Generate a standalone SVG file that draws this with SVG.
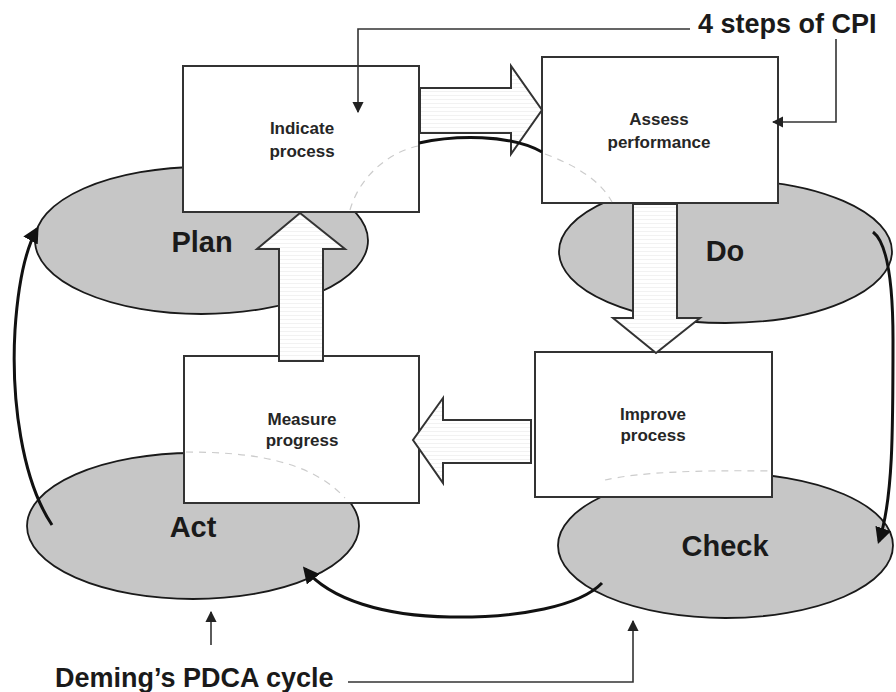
<svg xmlns="http://www.w3.org/2000/svg" width="896" height="692" viewBox="0 0 896 692">
  <style>
    .ell { fill: #c6c6c6; stroke: #1a1a1a; stroke-width: 1.8; }
    .box { fill: #ffffff; stroke: #333333; stroke-width: 2; }
    .blk { fill: url(#stripes); stroke: #333333; stroke-width: 2; stroke-linejoin: miter; }
    .big { font-family: "Liberation Sans", Arial, sans-serif; font-weight: bold; font-size: 29px; fill: #1a1a1a; text-anchor: middle; }
    .small { font-family: "Liberation Sans", Arial, sans-serif; font-weight: bold; font-size: 17px; fill: #262626; text-anchor: middle; }
    .cap { font-family: "Liberation Sans", Arial, sans-serif; font-weight: bold; font-size: 27px; fill: #1a1a1a; }
    .thick { fill: none; stroke: #111111; stroke-width: 3; }
    .thin { fill: none; stroke: #333333; stroke-width: 1.6; }
    .ghost { fill: none; stroke: #cccccc; stroke-width: 1.2; stroke-dasharray: 7 6; }
  </style>
  <defs>
    <pattern id="stripes" width="8" height="4" patternUnits="userSpaceOnUse">
      <rect width="8" height="4" fill="#ffffff"/>
      <line x1="0" y1="3.5" x2="8" y2="3.5" stroke="#ececec" stroke-width="0.7"/>
    </pattern>
    <marker id="big-head" viewBox="0 0 10 10" refX="8" refY="5" markerWidth="5.5" markerHeight="5.5" orient="auto" markerUnits="strokeWidth">
      <path d="M0,0 L10,5 L0,10 Z" fill="#111111"/>
    </marker>
    <marker id="small-head" viewBox="0 0 10 10" refX="9" refY="5" markerWidth="7" markerHeight="7" orient="auto" markerUnits="strokeWidth">
      <path d="M0,0 L10,5 L0,10 Z" fill="#222222"/>
    </marker>
  </defs>

  <rect width="896" height="692" fill="#ffffff"/>

  <!-- PDCA ellipses -->
  <g id="plan">
    <ellipse class="ell" cx="201.5" cy="240.5" rx="166.5" ry="73.5"/>
  </g>
  <g id="do">
    <ellipse class="ell" cx="725.5" cy="251.5" rx="166.5" ry="71.5"/>
  </g>
  <g id="act">
    <ellipse class="ell" cx="193" cy="526" rx="166" ry="73"/>
  </g>
  <g id="check">
    <ellipse class="ell" cx="725.5" cy="545.5" rx="167.5" ry="72.5"/>
  </g>

  <!-- CPI step boxes -->
  <g id="indicate-process">
    <rect class="box" x="183" y="66" width="236" height="146"/>
    <path class="ghost" d="M418,146 C390,152 360,175 350,210"/>
    <text class="small" x="302" y="134">Indicate</text>
    <text class="small" x="302" y="157">process</text>
  </g>
  <g id="assess-performance">
    <rect class="box" x="542" y="57" width="236" height="146"/>
    <path class="ghost" d="M545,154 C575,165 600,180 612,202"/>
    <text class="small" x="659" y="125">Assess</text>
    <text class="small" x="659" y="148">performance</text>
  </g>
  <g id="improve-process">
    <rect class="box" x="535" y="352" width="237" height="145"/>
    <path class="ghost" d="M605,480 C640,472 700,470 770,471"/>
    <text class="small" x="653" y="420">Improve</text>
    <text class="small" x="653" y="441">process</text>
  </g>
  <g id="measure-progress">
    <rect class="box" x="184" y="356" width="235" height="147"/>
    <path class="ghost" d="M186,452 C250,452 310,460 345,498"/>
    <text class="small" x="302" y="425">Measure</text>
    <text class="small" x="302" y="446">progress</text>
  </g>

  <!-- ellipse labels -->
  <g id="ellipse-labels">
    <text class="big" x="202" y="252">Plan</text>
    <text class="big" x="725" y="261">Do</text>
    <text class="big" x="193" y="537">Act</text>
    <text class="big" x="725" y="556">Check</text>
  </g>

  <!-- captions -->
  <g id="cpi-caption">
    <text class="cap" x="698" y="33">4 steps of CPI</text>
  </g>
  <g id="pdca-caption">
    <text class="cap" x="55" y="687">Deming’s PDCA cycle</text>
  </g>

  <!-- connectors -->
  <g id="connectors">
    <!-- block arrows between CPI steps -->
    <path class="blk" d="M420,88 L511,88 L511,66 L542,110 L511,154 L511,133 L420,133 Z"/>
    <path class="blk" d="M633,204 L677,204 L677,318 L700,318 L656,353 L613,318 L633,318 Z"/>
    <path class="blk" d="M531,420 L443,420 L443,398 L413,440 L443,483 L443,463 L531,463 Z"/>
    <path class="blk" d="M279,361 L279,249 L257,249 L300,213 L345,249 L323,249 L323,361 Z"/>

    <!-- PDCA cycle curves -->
    <path class="thick" d="M419,143 C455,135 510,134 542,152"/>
    <path class="thick" marker-end="url(#big-head)" d="M873,232 C889,244 893,290 893,340 C893,430 893,500 879,541"/>
    <path class="thick" marker-end="url(#big-head)" d="M602,583 C580,606 520,618 450,617 C385,616 330,600 305,569"/>
    <path class="thick" marker-end="url(#big-head)" d="M52,525 C22,480 11,400 15,330 C18,285 24,252 37,229"/>

    <!-- caption pointers -->
    <path class="thin" marker-end="url(#small-head)" d="M690,29 L358,29 L358,112"/>
    <path class="thin" marker-end="url(#small-head)" d="M836,39 L836,122 L773,122"/>
    <path class="thin" marker-end="url(#small-head)" d="M348,682 L633,682 L633,621"/>
    <path class="thin" marker-end="url(#small-head)" d="M211,645 L211,612"/>
  </g>
</svg>
